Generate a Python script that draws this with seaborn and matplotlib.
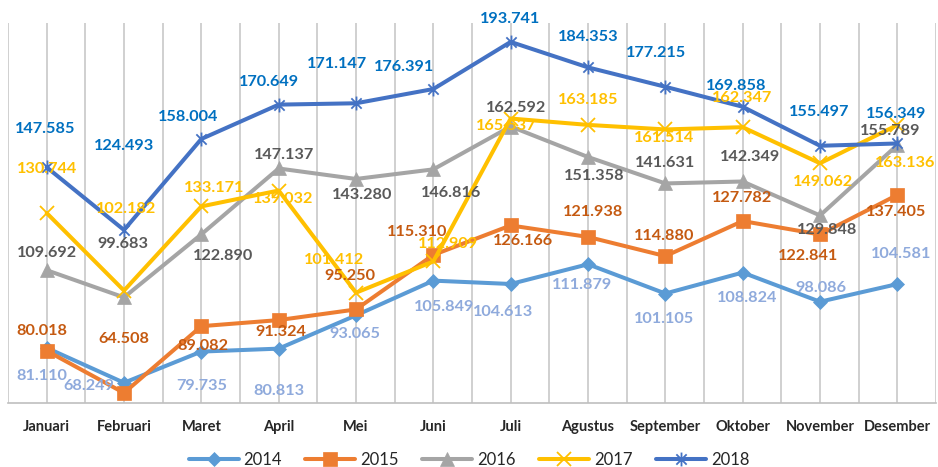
import numpy as np
import pandas as pd
import matplotlib
matplotlib.use("Agg")
import matplotlib.pyplot as plt
import seaborn as sns
from matplotlib.path import Path
from matplotlib.ticker import MultipleLocator

months = ["Januari", "Februari", "Maret", "April", "Mei", "Juni",
          "Juli", "Agustus", "September", "Oktober", "November", "Desember"]
years = ["2014", "2015", "2016", "2017", "2018"]

v2014 = [81.110, 68.249, 79.735, 80.813, 93.065, 105.849,
         104.613, 111.879, 101.105, 108.824, 98.086, 104.581]
v2015 = [80.018, 64.508, 89.082, 91.324, 95.250, 115.310,
         126.166, 121.938, 114.880, 127.782, 122.841, 137.405]
v2016 = [109.692, 99.683, 122.890, 147.137, 143.280, 146.816,
         162.592, 151.358, 141.631, 142.349, 129.848, 155.789]
v2017 = [130.744, 102.182, 133.171, 139.032, 101.412, 112.909,
         165.537, 163.185, 161.514, 162.347, 149.062, 163.136]
v2018 = [147.585, 124.493, 158.004, 170.649, 171.147, 176.391,
         193.741, 184.353, 177.215, 169.858, 155.497, 156.349]
values = [v2014, v2015, v2016, v2017, v2018]

# label offsets from each point in pixels (dx right, dy down)
off2014 = [(-5, 28), (-35, 3), (0, 34), (0, 42), (-1, 19), (11, 26),
           (-8, 28), (-6, 21), (-1, 25), (4, 25), (1, -14), (4, -30)]
off2015 = [(-5, -20), (0, -54), (2, 20), (2, 12), (-6, -33), (-16, -23),
           (12, 16), (5, -25), (-1, -20), (-1, -23), (-12, 22), (-1, 17)]
off2016 = [(0, -17), (-1, -53), (22, 22), (5, -13), (6, 16), (18, 24),
           (5, -19), (6, 19), (0, -20), (7, -24), (7, 15), (-7, -14)]
off2017 = [(0, -44), (2, -82), (13, -18), (4, 8), (-22, -33), (15, -17),
           (-4, 7), (0, -25), (-1, 9), (-1, -29), (3, 19), (8, 38)]
off2018 = [(-1, -38), (0, -84), (-13, -22), (-10, -23), (-19, -39), (-29, -22),
           (-1, -23), (0, -30), (-9, -34), (-6, -21), (-1, -34), (-1, -29)]
offsets = [off2014, off2015, off2016, off2017, off2018]

line_colors = ["#5B9BD5", "#ED7D31", "#A5A5A5", "#FFC000", "#4472C4"]
label_colors = ["#8FAADC", "#C55A11", "#595959", "#FFC000", "#0070C0"]

star = Path([(-1, -1), (1, 1), (-1, 1), (1, -1), (0, -1.35), (0, 1.35)],
            [Path.MOVETO, Path.LINETO, Path.MOVETO, Path.LINETO, Path.MOVETO, Path.LINETO])
markers = ["D", "s", "^", "x", star]
msizes = [7, 9.5, 9.5, 10, 10]

sns.set_style("white")
plt.rcParams["font.family"] = ["Lato", "DejaVu Sans"]

fig = plt.figure(figsize=(9.38, 4.67), dpi=100)
ax = fig.add_axes([8 / 938, 64 / 467, 928 / 938, 380 / 467])

x = np.arange(len(months))
for i, yr in enumerate(years):
    df = pd.DataFrame({"bulan": x, "nilai": values[i]})
    mk = markers[i]
    sns.lineplot(data=df, x="bulan", y="nilai", ax=ax, color=line_colors[i],
                 linewidth=2.9, marker=mk, markersize=msizes[i],
                 markeredgecolor=line_colors[i], markerfacecolor=line_colors[i],
                 markeredgewidth=1.3 if i >= 3 else 0.5, label=yr, sort=False,
                 zorder=3 + i)

for i in range(len(years)):
    for j, v in enumerate(values[i]):
        dx, dy = offsets[i][j]
        ax.annotate(f"{v:.3f}", (j, v), xytext=(dx, -dy), textcoords="offset pixels",
                    ha="center", va="center", fontsize=11.7, fontweight="bold",
                    color=label_colors[i], zorder=10)

ax.set_xlim(-0.5, 11.5)
ax.set_ylim(60.8, 200.7)
ax.set_xticks(x)
ax.set_xticklabels(months, fontsize=10.5, fontweight="bold")
ax.xaxis.set_minor_locator(MultipleLocator(0.5))
ax.tick_params(axis="x", which="both", length=0, pad=12)
ax.set_yticks([])
ax.set_xlabel("")
ax.set_ylabel("")
ax.grid(axis="x", which="both", color="#C8C8C8", linewidth=1.2)
ax.set_axisbelow(True)
for s in ["top", "left", "right"]:
    ax.spines[s].set_visible(False)
ax.spines["bottom"].set_color("#BFBFBF")
ax.spines["bottom"].set_linewidth(1.2)

ax.get_legend().remove()
h, l = ax.get_legend_handles_labels()
fig.legend(h, l, loc="center", bbox_to_anchor=(0.5, 0.015), ncol=5, frameon=False,
           fontsize=12, handlelength=3.0, handletextpad=0.3, columnspacing=1.4,
           numpoints=1)

fig.savefig("out.png", dpi=100)
